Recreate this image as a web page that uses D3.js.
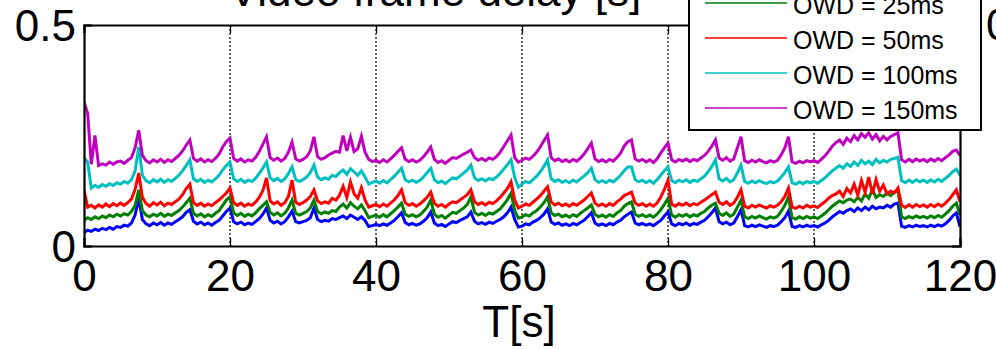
<!DOCTYPE html>
<html>
<head>
<meta charset="utf-8">
<script src="https://cdn.jsdelivr.net/npm/d3@7"></script>
<style>
  html, body { margin: 0; padding: 0; background: #fff; overflow: hidden; }
  svg { display: block; font-family: "Liberation Sans", Arial, sans-serif; }
</style>
</head>
<body>
<svg id="chart" width="996" height="349"></svg>
<script>
// ---------- data (frame delay in ms, sampled every 0.5 s from 0 to 120 s) ----------
const sampleStep = 0.5;
const seriesNames = ["OWD = 0ms", "OWD = 25ms", "OWD = 50ms", "OWD = 100ms", "OWD = 150ms"];
const seriesColors = ["#0000FF", "#008000", "#FF0000", "#00BFBF", "#BF00BF"];

const owd0 = [
  30,36,33,38,35,40,37,42,38,44,
  42,47,45,52,70,108,60,50,46,52,
  48,53,47,52,49,55,60,66,76,82,
  56,50,54,48,52,47,53,58,68,78,
  86,55,50,54,48,52,49,55,62,72,
  86,58,52,56,50,55,66,79,55,52,
  55,58,64,86,60,55,58,56,62,60,
  64,68,62,70,65,60,66,58,44,46,
  49,46,50,47,52,58,66,75,53,48,
  51,47,50,56,64,77,52,46,49,44,
  50,55,53,58,62,66,77,56,50,53,
  49,54,51,56,60,66,75,88,60,43,
  45,50,48,54,58,64,72,84,54,49,
  52,47,50,46,51,48,53,58,66,75,
  52,47,50,46,51,48,54,58,66,72,
  77,52,48,51,47,50,46,52,58,68,
  77,50,46,51,48,52,47,51,49,54,
  58,66,75,86,55,50,54,48,52,66,
  82,46,43,47,44,48,45,42,46,44,
  47,55,64,79,44,42,46,43,47,44,
  46,43,48,52,58,66,72,78,74,80,
  84,78,86,80,88,82,90,84,88,86,
  92,88,95,97,45,42,46,43,47,44,
  46,43,47,44,48,45,50,58,68,75,
  43];

const owd25 = [
  58,64,60,66,62,68,64,70,66,72,
  68,73,70,78,92,127,80,70,66,72,
  68,74,67,72,69,75,80,88,98,108,
  74,68,73,66,71,67,74,80,92,104,
  111,75,69,74,67,72,68,75,84,92,
  100,76,70,75,68,74,86,104,74,70,
  74,78,86,104,78,73,77,74,80,78,
  88,95,86,98,90,84,93,80,64,67,
  70,65,71,66,73,80,88,97,72,67,
  71,66,70,78,88,104,72,65,69,63,
  70,76,74,80,86,94,111,76,70,74,
  69,75,72,78,84,94,105,120,80,63,
  66,71,68,75,80,88,98,111,75,69,
  72,66,70,65,71,67,74,80,86,93,
  72,66,70,65,71,67,75,80,90,96,
  100,72,67,71,66,70,65,72,82,94,
  108,70,65,71,67,72,66,71,68,74,
  78,86,92,97,74,69,75,67,72,88,
  104,66,62,67,63,68,64,61,66,63,
  67,78,92,111,64,61,66,62,67,63,
  66,62,68,74,82,90,96,102,98,104,
  106,100,110,102,118,108,127,110,116,112,
  120,114,122,127,66,62,67,63,68,64,
  67,63,68,64,69,65,72,80,90,97,
  70];

const owd50 = [
  127,88,92,86,93,88,95,89,96,91,
  97,92,98,106,128,165,110,96,90,98,
  93,99,91,97,94,100,106,116,130,140,
  98,92,97,90,95,91,98,104,112,120,
  131,98,92,97,90,95,92,99,110,125,
  154,102,95,100,92,98,112,149,99,94,
  98,104,112,127,102,96,100,97,108,104,
  115,135,110,145,118,108,132,104,88,91,
  94,89,95,90,97,104,114,127,98,92,
  96,90,95,102,110,122,97,90,94,88,
  95,100,98,104,110,116,127,100,94,98,
  93,99,96,102,110,120,130,145,104,86,
  90,95,92,99,106,114,124,134,100,93,
  97,91,95,90,96,92,98,104,112,120,
  97,91,95,90,96,92,100,106,114,118,
  122,97,92,96,90,95,90,97,110,128,
  149,95,90,96,92,97,91,96,93,99,
  104,110,116,122,99,94,100,92,97,110,
  127,90,86,92,88,93,89,86,91,88,
  92,100,112,131,88,85,90,86,92,88,
  91,87,94,100,108,114,118,124,112,130,
  120,140,115,148,122,156,118,150,124,138,
  118,124,120,131,92,87,93,88,94,89,
  93,88,94,89,95,90,97,105,116,127,
  100];

const owd100 = [
  200,190,131,137,133,139,135,141,137,143,
  140,146,142,150,170,224,160,148,143,150,
  145,151,144,150,146,153,160,170,182,195,
  152,146,151,144,149,145,152,160,172,182,
  190,152,146,151,144,149,146,153,164,176,
  190,154,148,153,146,152,164,179,150,146,
  150,156,166,183,156,150,154,151,160,157,
  166,172,162,175,168,160,170,156,140,144,
  147,142,148,143,150,158,167,176,150,145,
  149,144,148,156,166,176,150,143,147,141,
  148,154,152,158,165,172,183,154,148,152,
  147,153,150,156,164,174,184,195,155,133,
  140,146,143,150,158,168,180,195,152,146,
  150,144,148,143,149,145,152,158,166,176,
  150,144,148,143,149,145,152,160,170,179,
  179,150,145,149,143,148,142,150,160,170,
  179,148,143,149,145,150,144,149,146,152,
  158,168,180,195,152,147,153,145,150,165,
  183,146,142,147,143,148,144,141,146,143,
  147,156,166,179,143,140,145,141,146,143,
  146,142,148,154,162,170,176,182,176,186,
  180,190,182,194,186,192,184,196,188,194,
  190,196,198,201,148,143,149,144,150,145,
  149,144,150,145,151,146,153,160,168,174,
  160];

const owd150 = [
  326,300,185,250,182,186,183,190,185,190,
  192,187,194,200,222,262,205,193,188,195,
  190,196,189,195,191,198,205,215,228,240,
  198,192,197,190,195,191,198,208,224,236,
  244,198,192,197,190,195,192,200,214,230,
  247,200,194,199,192,198,212,235,197,192,
  196,202,215,247,202,196,200,206,210,214,
  212,250,215,246,214,220,248,212,196,191,
  194,189,195,190,197,205,214,222,196,191,
  195,190,194,202,212,224,196,189,193,187,
  194,200,198,203,208,212,217,200,194,198,
  193,199,196,202,212,225,238,251,200,190,
  194,199,196,203,212,224,238,251,200,193,
  197,191,195,190,196,192,199,208,220,233,
  197,191,195,190,196,192,200,210,226,236,
  240,197,192,196,190,195,189,197,210,222,
  233,195,190,196,192,197,191,196,193,199,
  205,214,226,240,199,194,200,192,197,222,
  247,193,189,194,190,195,191,188,193,190,
  194,206,222,247,190,187,192,188,193,190,
  193,189,196,204,214,226,234,240,230,244,
  236,250,240,254,246,256,242,252,238,248,
  240,248,252,256,195,190,196,191,197,192,
  196,191,197,192,198,193,200,206,214,217,
  205];

const xTicks = [0, 20, 40, 60, 80, 100, 120];
const yTicks = [0, 500];          // ms
const yTickLabels = ["0", "0.5"];  // seconds
const titleText = "Video frame delay [s]";
const xLabel = "T[s]";

// ---------- layout ----------
const svg = d3.select("#chart");
const L = 84, R = 960, T = 25, B = 246;

const x = d3.scaleLinear().domain([0, 120]).range([L, R]);
const y = d3.scaleLinear().domain([0, 500]).range([B, T]);

const allSeries = [owd0, owd25, owd50, owd100, owd150];

// clip
svg.append("defs").append("clipPath").attr("id", "plotclip")
  .append("rect").attr("x", L).attr("y", T).attr("width", R - L).attr("height", B - T);

// grid lines (dotted)
svg.append("g").selectAll("line")
  .data(xTicks.filter(d => d > 0 && d < 120))
  .join("line")
  .attr("x1", d => x(d)).attr("x2", d => x(d))
  .attr("y1", T).attr("y2", B)
  .attr("stroke", "#000").attr("stroke-width", 1.2)
  .attr("stroke-dasharray", "2,2");

// series
const line = d3.line()
  .x((d, i) => x(i * sampleStep))
  .y(d => y(d));

const gSeries = svg.append("g").attr("clip-path", "url(#plotclip)");
allSeries.forEach((arr, k) => {
  gSeries.append("path")
    .datum(arr)
    .attr("d", line)
    .attr("fill", "none")
    .attr("stroke", seriesColors[k])
    .attr("stroke-width", 3)
    .attr("stroke-linejoin", "miter");
});

// axes box
const axB = svg.append("g").attr("transform", `translate(0,${B})`)
  .call(d3.axisBottom(x).tickValues(xTicks).tickSize(-8).tickPadding(14).tickFormat(d3.format("d")));
const axT = svg.append("g").attr("transform", `translate(0,${T})`)
  .call(d3.axisTop(x).tickValues(xTicks).tickSize(-8).tickFormat(""));
const axL = svg.append("g").attr("transform", `translate(${L},0)`)
  .call(d3.axisLeft(y).tickValues(yTicks).tickSize(-8).tickPadding(8)
    .tickFormat((d, i) => yTickLabels[i]));
const axR = svg.append("g").attr("transform", `translate(${R},0)`)
  .call(d3.axisRight(y).tickValues(yTicks).tickSize(-8).tickFormat(""));

[axB, axT, axL, axR].forEach(g => {
  g.select(".domain").attr("stroke", "#000").attr("stroke-width", 2.2);
  g.selectAll(".tick line").attr("stroke", "#000").attr("stroke-width", 1.3);
  g.selectAll("text").attr("fill", "#000").style("font-family", "'Liberation Sans', Arial, sans-serif");
});
axB.selectAll("text").style("font-size", "44px").attr("dy", "0.71em");
axL.selectAll("text").style("font-size", "44px").attr("dy", "0.36em");

// title & x label
svg.append("text").attr("x", 435).attr("y", 6)
  .attr("text-anchor", "middle").style("font-size", "44px").text(titleText);
svg.append("text").attr("x", 519).attr("y", 337)
  .attr("text-anchor", "middle").style("font-size", "44px").text(xLabel);

// partial label of neighbouring panel at right edge
svg.append("text").attr("x", 986).attr("y", 40)
  .attr("text-anchor", "start").style("font-size", "44px").text("0.5");

// legend
const legY0 = 3 - 35 * 1; // first entry (0ms) above visible area
const legStep = 35;
const leg = svg.append("g");
leg.append("rect")
  .attr("x", 689).attr("y", legY0 - 22).attr("width", 292).attr("height", 130 - (legY0 - 22))
  .attr("fill", "#fff").attr("stroke", "#000").attr("stroke-width", 2);
seriesNames.forEach((name, k) => {
  const yy = legY0 + k * legStep;
  leg.append("line").attr("x1", 705).attr("x2", 787).attr("y1", yy).attr("y2", yy)
    .attr("stroke", seriesColors[k]).attr("stroke-width", 1.5);
  leg.append("text").attr("x", 793).attr("y", yy + 11)
    .style("font-size", "25px").attr("fill", "#000").text(name);
});
</script>
</body>
</html>
